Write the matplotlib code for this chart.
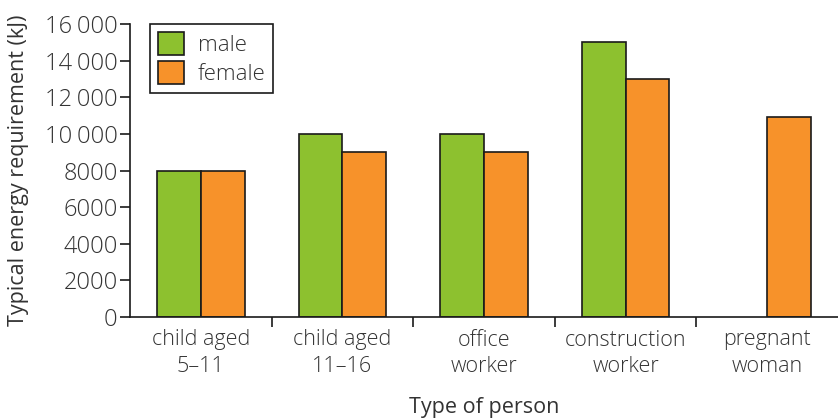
import numpy as np
import matplotlib
matplotlib.use("Agg")
import matplotlib.pyplot as plt

# data
categories = ["child aged\n5\u201311", "child aged\n11\u201316", "office\nworker",
              "construction\nworker", "pregnant\nwoman"]
male = [8000, 10000, 10000, 15000, np.nan]
female = [8000, 9000, 9000, 13000, 10900]
yticks = [0, 2000, 4000, 6000, 8000, 10000, 12000, 14000, 16000]
ytick_labels = ["0", "2000", "4000", "6000", "8000",
                "10\u2009000", "12\u2009000", "14\u2009000", "16\u2009000"]

plt.rcParams['font.family'] = ['Open Sans', 'DejaVu Sans']
plt.rcParams['font.weight'] = 'light'
txt = '#333333'

fig = plt.figure(figsize=(8.38, 4.18), dpi=100)
ax = fig.add_axes([130 / 838, 1 - 317 / 418, 1 - 130 / 838, (317 - 24) / 418])

x = np.arange(len(categories))
w = 0.31
ax.bar(x - w / 2, male, w, color='#8dc12f', edgecolor='#1a1a1a', linewidth=1.2, label='male')
ax.bar(x + w / 2, female, w, color='#f7922a', edgecolor='#1a1a1a', linewidth=1.2, label='female')

ax.set_xlim(-0.5, 4.5)
ax.set_ylim(0, 16000)
ax.set_yticks(yticks)
ax.set_yticklabels(ytick_labels)

# ticks between categories, labels at centres
ax.set_xticks(x[:-1] + 0.5)
ax.set_xticklabels([])
ax.set_xticks(x, minor=True)
ax.set_xticklabels(categories, minor=True, linespacing=1.35)
ax.tick_params(axis='x', which='major', length=7, width=1.2, color='#1a1a1a')
ax.tick_params(axis='x', which='minor', length=0, pad=9, labelsize=15.5, labelcolor=txt)
ax.tick_params(axis='y', length=7, width=1.2, color='#1a1a1a', pad=2, labelsize=17, labelcolor=txt)

for s in ['top', 'right']:
    ax.spines[s].set_visible(False)
for s in ['left', 'bottom']:
    ax.spines[s].set_linewidth(1.2)
    ax.spines[s].set_color('#1a1a1a')

ax.set_xlabel("Type of person", fontsize=15.5, color=txt, labelpad=14)
ax.set_ylabel("Typical energy requirement (kJ)", fontsize=15.5, color=txt, labelpad=11)

leg = ax.legend(loc='upper left', bbox_to_anchor=(0.028, 1.0), borderaxespad=0,
                fontsize=16, fancybox=False, framealpha=1, edgecolor='#1a1a1a',
                handlelength=1.2, handleheight=1.2, handletextpad=0.6,
                labelspacing=0.25, borderpad=0.35)
leg.get_frame().set_linewidth(1.2)
for t in leg.get_texts():
    t.set_color(txt)

fig.savefig("out.png", dpi=100)
